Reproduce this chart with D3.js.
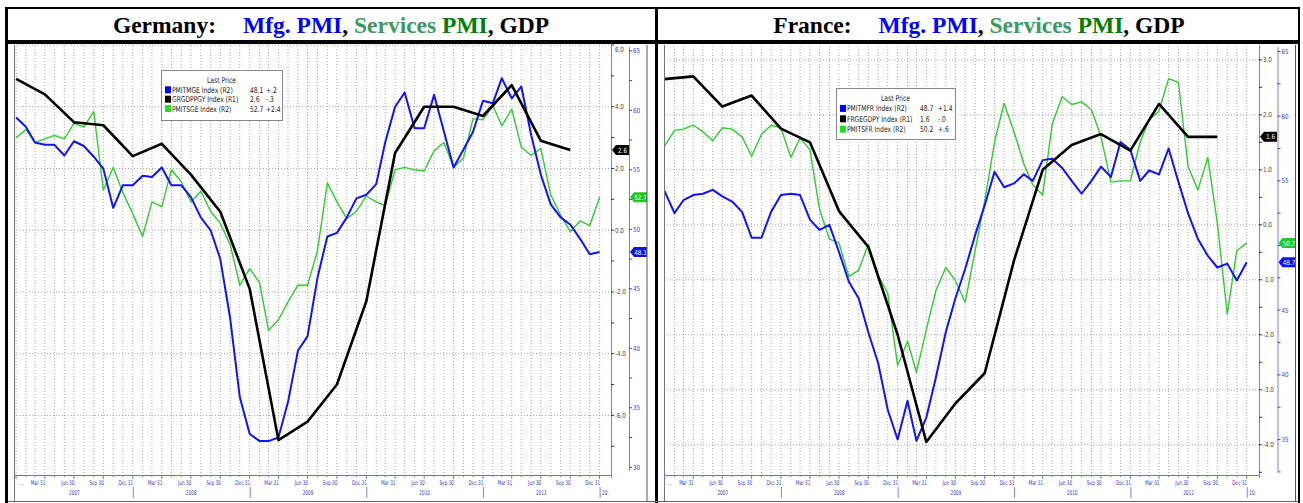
<!DOCTYPE html>
<html>
<head>
<meta charset="utf-8">
<script src="https://cdn.jsdelivr.net/npm/d3@7"></script>
<style>
  body { margin: 0; background: #fff; }
  svg { display: block; font-family: "DejaVu Sans", sans-serif; }
</style>
</head>
<body>
<svg id="chart" width="1303" height="503"></svg>
<script>
// monthly PMI, month ends Dec 2006 .. Dec 2011 (61 points)
const deMfg = [59.4, 58.6, 57.3, 57.1, 57.1, 56.2, 57.4, 57.0, 56.1, 55.1,
  51.8, 53.7, 53.7, 54.5, 54.4, 55.2, 53.7, 53.7, 52.7, 51.0,
  49.9, 47.5, 42.5, 35.9, 32.8, 32.2, 32.2, 32.5, 35.5, 39.8,
  41.0, 45.9, 49.4, 49.7, 51.0, 52.6, 52.9, 53.8, 57.3, 60.3,
  61.5, 58.5, 58.5, 61.3, 58.2, 55.2, 56.7, 58.2, 60.8, 60.6,
  62.7, 61.0, 62.0, 57.9, 54.6, 52.1, 51.0, 50.4, 49.2, 47.9, 48.1];
const deSvc = [57.7, 58.4, 57.3, 57.6, 57.9, 57.6, 58.9, 58.6, 59.9, 53.3,
  55.2, 53.1, 51.3, 49.4, 52.3, 51.9, 55.0, 54.0, 52.3, 53.2,
  51.5, 50.5, 48.7, 45.3, 46.7, 45.5, 41.5, 42.4, 43.9, 45.3,
  45.3, 48.2, 53.9, 52.3, 50.9, 51.5, 52.8, 52.3, 52.0, 55.0,
  55.2, 55.0, 54.9, 56.6, 57.3, 55.2, 56.0, 59.3, 59.2, 60.4,
  58.7, 60.1, 56.9, 56.2, 56.8, 52.9, 51.2, 49.8, 50.7, 50.3, 52.7];
// quarterly GDP y/y %, Dec 2006 .. Sep 2011 (20 points)
const deGdp = [4.9, 4.4, 3.5, 3.4, 2.4, 2.8, 1.8, 0.6, -1.9, -6.8,
  -6.2, -5.0, -2.3, 2.5, 4.0, 4.0, 3.7, 4.7, 2.9, 2.6];

const frMfg = [54.2, 52.5, 53.5, 53.9, 54.0, 54.3, 53.8, 53.4, 52.6, 50.6,
  50.6, 52.6, 53.9, 54.0, 53.9, 52.0, 51.2, 51.6, 49.5, 47.2,
  45.9, 43.3, 40.9, 37.3, 35.0, 38.0, 34.9, 36.7, 39.8, 43.3,
  45.9, 48.2, 50.8, 53.1, 55.7, 54.5, 54.8, 55.5, 55.0, 56.6,
  56.7, 56.0, 55.0, 54.0, 55.0, 56.1, 55.3, 58.0, 57.4, 55.0,
  55.8, 55.5, 57.5, 54.9, 52.5, 50.5, 49.2, 48.3, 48.6, 47.3, 48.7];
const frSvc = [57.7, 58.9, 59.0, 59.3, 58.8, 58.1, 59.1, 59.0, 58.4, 56.9,
  58.6, 59.3, 59.1, 56.8, 58.3, 57.4, 52.8, 50.5, 50.2, 47.6,
  48.1, 50.1, 47.7, 46.3, 40.7, 42.6, 40.2, 43.5, 46.5, 48.3,
  47.3, 45.6, 49.6, 53.4, 58.0, 61.0, 58.8, 56.3, 54.7, 53.9,
  59.4, 61.5, 60.9, 61.1, 60.5, 58.4, 54.9, 55.0, 55.0, 58.0,
  59.7, 60.4, 62.9, 62.6, 56.1, 54.3, 56.8, 51.7, 44.7, 49.6, 50.2];
const frGdp = [2.65, 2.7, 2.15, 2.35, 1.75, 1.5, 0.25, -0.4, -2.0, -3.95,
  -3.25, -2.7, -0.65, 1.0, 1.45, 1.65, 1.35, 2.2, 1.6, 1.6];

// legend rows: ticker, last price, change (order: mfg, gdp, services)
const deLegend = [['PMITMGE Index  (R2)', '48.1', '+.2'],
  ['GRGDPPGY Index  (R1)', '2.6', '-.3'],
  ['PMITSGE Index  (R2)', '52.7', '+2.4']];
const frLegend = [['PMITMFR Index  (R2)', '48.7', '+1.4'],
  ['FRGEGDPY Index  (R1)', '1.6', '-.0'],
  ['PMITSFR Index  (R2)', '50.2', '+.6']];

const quarterLabels = ['Mar 31', 'Jun 30', 'Sep 30', 'Dec 31'];
const yearLabels = ['2007', '2008', '2009', '2010', '2011'];

const blue = '#1212ff', green = '#2fcc2f', black = '#000';

const monthEnds = d3.range(61).map(i =>
  d3.utcDay.offset(d3.utcMonth.offset(new Date(Date.UTC(2007, 0, 1)), i), -1));
const quarterEnds = monthEnds.filter((d, i) => i % 3 === 0).slice(0, 20);

const panels = [
  { title: 'Germany:', cx: 331, plotL: 14, plotR: 611, x06: 16.1, x11: 599.6, ax2: 629, frameR: 647,
    r1: [-7.93, 6.0], r1Step: 2, r1Minor: 1, r2: [29.35, 65.49],
    mfg: deMfg, svc: deSvc, gdp: deGdp, legend: deLegend,
    lx: 161, ly: 70, lw: 121, lh: 50, valX: 89, chgX: 105, rowY: 22.8, rowH: 9.4 },
  { title: 'France:', cx: 979, plotL: 664, plotR: 1259, x06: 664.6, x11: 1246.7, ax2: 1277.5, frameR: 1295.5,
    r1: [-4.55, 3.27], r1Step: 1, r1Minor: 0.5, r2: [32.26, 65.5],
    mfg: frMfg, svc: frSvc, gdp: frGdp, legend: frLegend,
    lx: 836, ly: 88, lw: 119, lh: 51, valX: 84, chgX: 102, rowY: 23.4, rowH: 10.4 }
];

const svg = d3.select('#chart');
const plotTop = 45, plotBottom = 475;

// small condensed text, like the terminal font
function txt(g, x, y, s, size, sx, anchor, fill) {
  return g.append('text')
    .attr('transform', `translate(${x},${y}) scale(${sx},1)`)
    .attr('font-size', size)
    .attr('text-anchor', anchor)
    .attr('fill', fill)
    .text(s);
}

function tag(g, x0, yv, w, fill, s) {
  g.append('path')
    .attr('d', `M${x0},${yv} l4,-5 h${w - 4} v10 h${-(w - 4)} z`)
    .attr('fill', fill);
  txt(g, x0 + w / 2 + 2, yv + 2.6, s, 7, 0.8, 'middle', '#fff');
}

panels.forEach((p, k) => {
  const g = svg.append('g');
  const x = d3.scaleUtc().domain([monthEnds[0], monthEnds[60]]).range([p.x06, p.x11]);
  const y1 = d3.scaleLinear().domain(p.r1).range([plotBottom, plotTop]);
  const y2 = d3.scaleLinear().domain(p.r2).range([plotBottom, plotTop]);

  const r1Major = d3.range(Math.ceil(p.r1[0] / p.r1Step) * p.r1Step, p.r1[1] + 0.001, p.r1Step);
  const r1Minor = d3.range(Math.ceil(p.r1[0] / p.r1Minor) * p.r1Minor, p.r1[1] + 0.001, p.r1Minor);
  const r2Major = d3.range(Math.ceil(p.r2[0] / 5) * 5, p.r2[1] + 0.001, 5);
  const r2Minor = d3.range(Math.ceil(p.r2[0] / 2.5) * 2.5, p.r2[1] + 0.001, 2.5);

  const gdpY = y1(p.gdp[p.gdp.length - 1]);
  const svcY = y2(p.svc[p.svc.length - 1]);
  const mfgY = y2(p.mfg[p.mfg.length - 1]);

  // dotted grid
  g.append('g').selectAll('line').data(monthEnds).join('line')
    .attr('x1', d => x(d)).attr('x2', d => x(d))
    .attr('y1', plotTop + 1).attr('y2', plotBottom)
    .attr('stroke', '#a8a8a8').attr('stroke-dasharray', '1,2');
  g.append('g').selectAll('line').data(r1Major).join('line')
    .attr('x1', p.plotL).attr('x2', p.plotR)
    .attr('y1', d => y1(d)).attr('y2', d => y1(d))
    .attr('stroke', '#a8a8a8').attr('stroke-dasharray', '1,2');

  // series
  const clipId = 'clip' + k;
  g.append('clipPath').attr('id', clipId).append('rect')
    .attr('x', p.plotL).attr('y', plotTop).attr('width', p.plotR - p.plotL).attr('height', plotBottom - plotTop);
  const lines = g.append('g').attr('clip-path', `url(#${clipId})`).attr('fill', 'none')
    .attr('stroke-linejoin', 'round');
  lines.append('path').datum(p.svc)
    .attr('d', d3.line().x((d, i) => x(monthEnds[i])).y(d => y2(d)))
    .attr('stroke', green).attr('stroke-width', 1.4);
  lines.append('path').datum(p.mfg)
    .attr('d', d3.line().x((d, i) => x(monthEnds[i])).y(d => y2(d)))
    .attr('stroke', blue).attr('stroke-width', 2);
  lines.append('path').datum(p.gdp)
    .attr('d', d3.line().x((d, i) => x(quarterEnds[i])).y(d => y1(d)))
    .attr('stroke', black).attr('stroke-width', 2.6);

  // plot frame left
  g.append('line').attr('x1', p.plotL + 0.5).attr('x2', p.plotL + 0.5)
    .attr('y1', plotTop).attr('y2', 501).attr('stroke', '#777');

  // x axis
  g.append('line').attr('x1', p.plotL).attr('x2', p.plotR + 1)
    .attr('y1', plotBottom + 0.5).attr('y2', plotBottom + 0.5).attr('stroke', '#6b6bff');
  g.append('g').selectAll('line').data(monthEnds).join('line')
    .attr('x1', d => x(d)).attr('x2', d => x(d))
    .attr('y1', plotBottom).attr('y2', (d, i) => plotBottom + (i % 3 === 0 ? 4 : 2))
    .attr('stroke', '#6b6bff');
  txt(g, p.x06 + 7, 484.5, '...', 6.5, 0.65, 'end', '#3535d0');
  yearLabels.forEach((yl, yi) => {
    quarterLabels.forEach((ql, qi) => {
      txt(g, x(monthEnds[yi * 12 + (qi + 1) * 3]) + 0.5, 484.5, ql, 6.5, 0.65, 'end', '#3535d0');
    });
    const xa = x(monthEnds[yi * 12]), xb = x(monthEnds[yi * 12 + 12]);
    txt(g, (xa + xb) / 2, 495, yl, 6.5, 0.65, 'middle', '#3535d0');
    g.append('line').attr('x1', xb + 0.5).attr('x2', xb + 0.5)
      .attr('y1', 487).attr('y2', 498).attr('stroke', '#8080ff');
  });
  txt(g, p.x11 + 2.5, 495, '20:', 6.5, 0.65, 'start', '#3535d0');

  // right axis R1 (GDP)
  g.append('line').attr('x1', p.plotR + 0.5).attr('x2', p.plotR + 0.5)
    .attr('y1', plotTop).attr('y2', plotBottom + 3).attr('stroke', '#888');
  g.append('g').selectAll('line').data(r1Minor).join('line')
    .attr('x1', p.plotR).attr('x2', p.plotR + 3)
    .attr('y1', d => y1(d)).attr('y2', d => y1(d))
    .attr('stroke', '#333');
  r1Major.forEach(v => {
    const yy = Math.max(y1(v), 49);
    if (Math.abs(yy - gdpY) < 9) return; // hidden behind the value tag
    txt(g, p.plotR + 4, yy + 2.5, v.toFixed(1), 7, 0.8, 'start', '#444');
  });

  // right axis R2 (PMI)
  g.append('line').attr('x1', p.ax2 + 0.5).attr('x2', p.ax2 + 0.5)
    .attr('y1', plotTop + 2).attr('y2', plotBottom - 4).attr('stroke', '#7a7aff');
  g.append('g').selectAll('line').data(r2Minor).join('line')
    .attr('x1', p.ax2).attr('x2', p.ax2 + 3)
    .attr('y1', d => y2(d)).attr('y2', d => y2(d))
    .attr('stroke', '#3a3aff');
  r2Major.forEach(v => {
    const yy = y2(v);
    if (Math.abs(yy - svcY) < 9 || Math.abs(yy - mfgY) < 9) return; // hidden behind a tag
    txt(g, p.ax2 + 4, yy + 2.5, String(v), 7, 0.8, 'start', '#3a3aff');
  });

  // last-value tags
  tag(g, p.plotR + 1, gdpY, 17, '#000', p.legend[1][1]);
  tag(g, p.ax2 + 1, svcY, 17, '#22c822', p.legend[2][1]);
  tag(g, p.ax2 + 1, mfgY, 17, '#1010ee', p.legend[0][1]);

  // legend
  const lg = g.append('g').attr('transform', `translate(${p.lx},${p.ly})`);
  lg.append('rect').attr('x', 0.5).attr('y', 0.5).attr('width', p.lw).attr('height', p.lh)
    .attr('fill', '#fff').attr('stroke', '#888');
  txt(lg, p.lw / 2, 13, 'Last Price', 8, 0.75, 'middle', '#222');
  const sq = ['#0000ff', '#000', '#22dd22'];
  p.legend.forEach((r, i) => {
    const yy = p.rowY + i * p.rowH;
    lg.append('rect').attr('x', 4).attr('y', yy - 6.5).attr('width', 6).attr('height', 7).attr('fill', sq[i]);
    txt(lg, 11, yy, r[0], 8, 0.75, 'start', '#222');
    txt(lg, p.valX, yy, r[1], 8, 0.75, 'start', '#222');
    txt(lg, p.chgX, yy, r[2], 8, 0.75, 'start', '#222');
  });

  // chart image right edge
  g.append('line').attr('x1', p.frameR).attr('x2', p.frameR)
    .attr('y1', plotTop).attr('y2', 501).attr('stroke', '#555');

  // title
  const t = svg.append('text')
    .attr('x', p.cx).attr('y', 33)
    .attr('text-anchor', 'middle')
    .attr('font-family', '"Liberation Serif", "Times New Roman", serif')
    .attr('font-weight', 'bold')
    .attr('font-size', 23.5);
  t.append('tspan').attr('fill', '#000').text(p.title);
  t.append('tspan').attr('dx', 27).attr('fill', '#0000ff').text('Mfg. PMI');
  t.append('tspan').attr('fill', '#000').text(', ');
  t.append('tspan').attr('fill', '#3c9a5f').text('Services');
  t.append('tspan').attr('fill', '#008000').text(' PMI');
  t.append('tspan').attr('fill', '#000').text(', GDP');
});

// table rules
const rules = svg.append('g').attr('stroke', '#000');
rules.append('line').attr('x1', 5).attr('x2', 1300).attr('y1', 8).attr('y2', 8).attr('stroke-width', 2);
rules.append('line').attr('x1', 5).attr('x2', 1300).attr('y1', 42).attr('y2', 42).attr('stroke-width', 4);
rules.append('line').attr('x1', 6.5).attr('x2', 6.5).attr('y1', 7).attr('y2', 503).attr('stroke-width', 3);
rules.append('line').attr('x1', 656.5).attr('x2', 656.5).attr('y1', 7).attr('y2', 503).attr('stroke-width', 3);
rules.append('line').attr('x1', 1299).attr('x2', 1299).attr('y1', 7).attr('y2', 503).attr('stroke-width', 2);
rules.append('line').attr('x1', 8).attr('x2', 1298).attr('y1', 501.5).attr('y2', 501.5)
  .attr('stroke', '#666').attr('stroke-width', 1);
</script>
</body>
</html>
